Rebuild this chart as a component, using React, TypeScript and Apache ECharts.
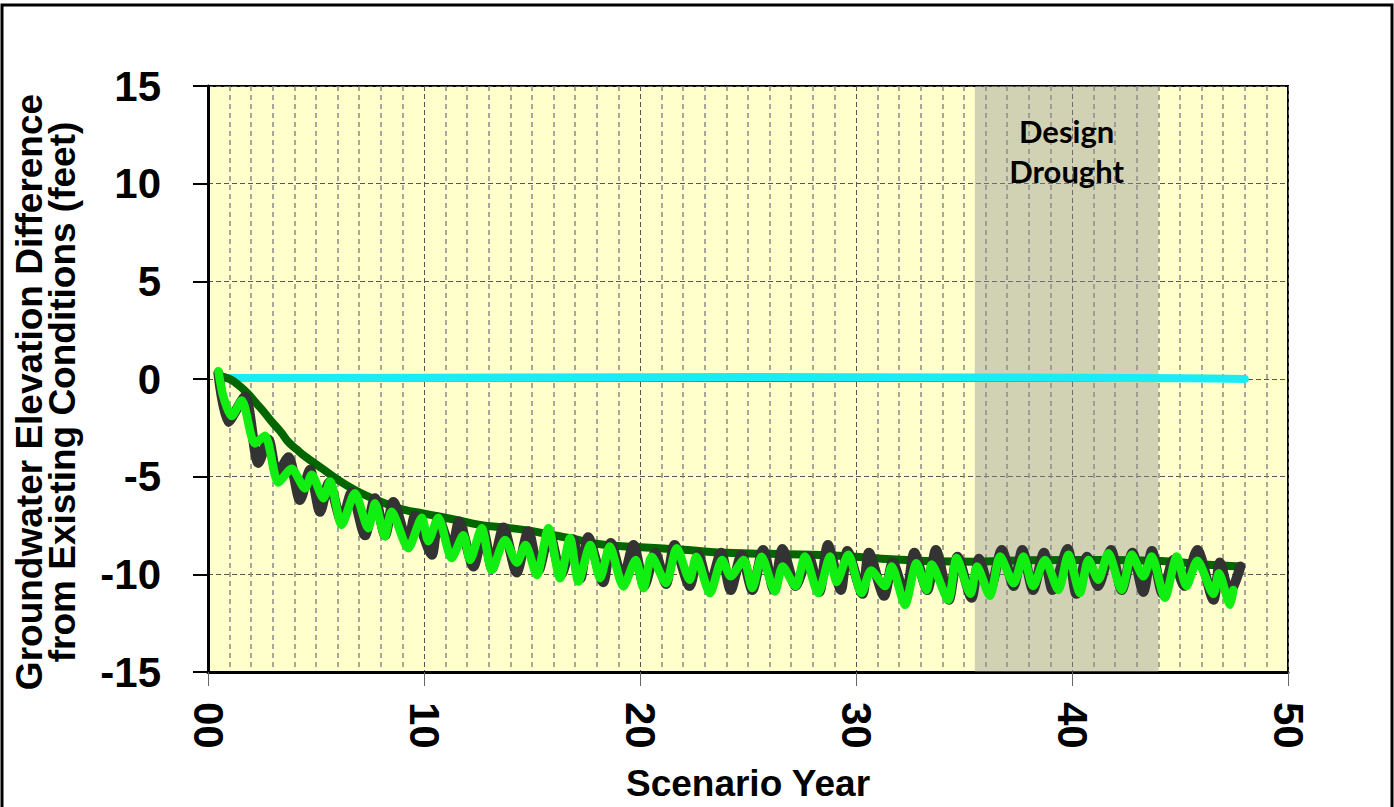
import React, { useEffect, useRef } from "react";
import * as echarts from "echarts";

// Scenario year tick labels
const xTickLabels: Record<number, string> = { 0: "00", 10: "10", 20: "20", 30: "30", 40: "40", 50: "50" };

// Axis titles
const yTitle = "Groundwater Elevation Difference\nfrom Existing Conditions (feet)";
const xTitle = "Scenario Year";

// Design drought period (scenario years)
const droughtStart = 35.5;
const droughtEnd = 44.0;

// Cyan reference line (≈0 ft)
const cyanLine: [number, number][] = [
  [0.8, 0.05], [5, 0.05], [15, 0.08], [25, 0.1], [35, 0.08], [45, 0.04], [48, 0.0],
];
// Thin red line beneath the cyan one
const redLine: [number, number][] = [
  [0.8, -0.1], [48, -0.12],
];

// Dark green smooth trend
const darkGreenLine: [number, number][] = [
  [0.5, 0.15], [1, 0.0], [1.4, -0.3], [1.8, -0.7], [2.2, -1.2], [2.6, -1.7], [3, -2.25], [3.4, -2.75],
  [3.7, -3.2], [4.1, -3.6], [4.5, -3.97], [5.3, -4.6], [6, -5.15], [6.8, -5.68], [7.6, -6.1], [8.4, -6.45],
  [9.1, -6.7], [9.9, -6.87], [10.7, -7.04], [11.5, -7.22], [12.6, -7.47], [13.7, -7.6], [14.8, -7.75],
  [16, -8.0], [17, -8.2], [17.8, -8.4], [19, -8.55], [20.9, -8.66], [22.5, -8.78], [23.6, -8.88],
  [26, -8.95], [28, -9.0], [30, -9.1], [31.2, -9.2], [33, -9.3], [35.5, -9.35], [37, -9.3], [39.9, -9.26],
  [42, -9.27], [43.9, -9.3], [46.1, -9.5], [47.8, -9.6],
];

// Dark gray oscillating series
const grayLine: [number, number][] = [
  [0.48, 0.3], [0.94, -2.2], [1.71, -0.9], [2.33, -4.3], [2.8, -3.1], [3.2, -4.9], [3.72, -4.0], [4.26, -6.2],
  [4.72, -4.65], [5.19, -6.8], [5.6, -5.3], [6.19, -7.3], [6.65, -5.8], [7.27, -8.0], [7.73, -6.1], [8.2, -8.0],
  [8.58, -6.3], [9.27, -8.5], [9.58, -7.0], [10.36, -9.0], [10.66, -7.1], [11.28, -8.8], [11.62, -7.3],
  [12.29, -9.6], [12.75, -7.8], [13.15, -9.7], [13.68, -7.6], [14.29, -9.9], [14.83, -7.8], [15.3, -9.8],
  [15.8, -7.9], [16.35, -10.0], [16.9, -8.2], [17.25, -10.2], [17.6, -8.1], [18.3, -10.4], [18.65, -8.4],
  [19.2, -10.3], [19.7, -8.5], [20.2, -10.6], [20.7, -8.9], [21.2, -10.5], [21.6, -8.5], [22.3, -10.6],
  [22.7, -9.0], [23.2, -10.7], [23.75, -8.9], [24.2, -10.8], [24.7, -9.0], [25.2, -10.8], [25.7, -8.75],
  [26.2, -10.8], [26.6, -8.7], [27.2, -10.6], [27.8, -9.1], [28.3, -10.9], [28.7, -8.5], [29.3, -10.8],
  [29.6, -8.8], [30.3, -11.0], [30.6, -8.9], [31.3, -11.1], [31.7, -9.4], [32.3, -11.2], [32.7, -8.9],
  [33.3, -10.8], [33.7, -8.75], [34.3, -11.3], [34.7, -9.1], [35.35, -11.2], [35.7, -9.2], [36.2, -10.8],
  [36.75, -8.75], [37.3, -10.6], [37.7, -8.75], [38.2, -10.8], [38.7, -8.9], [39.1, -10.8], [39.8, -8.7],
  [40.2, -11.0], [40.7, -9.1], [41.2, -10.6], [41.8, -8.75], [42.3, -10.8], [42.8, -8.9], [43.3, -10.9],
  [43.7, -8.8], [44.2, -11.0], [44.7, -9.25], [45.2, -10.6], [45.8, -8.75], [46.55, -11.3], [46.85, -9.4],
  [47.3, -11.0], [47.8, -9.6],
];

// Bright green oscillating series
const greenLine: [number, number][] = [
  [0.48, 0.4], [0.71, -0.9], [1.1, -1.9], [1.56, -1.1], [2.17, -3.3], [2.64, -2.9], [3.26, -5.3], [3.87, -4.6],
  [4.49, -5.6], [4.8, -4.9], [5.34, -6.1], [5.65, -5.25], [6.19, -7.47], [6.8, -5.85], [7.42, -7.64],
  [7.73, -6.36], [8.19, -8.06], [8.5, -6.8], [9.27, -8.66], [9.9, -7.1], [10.2, -8.3], [10.66, -7.1],
  [11.28, -9.17], [11.82, -8.0], [12.13, -9.26], [12.67, -7.64], [13.14, -9.77], [13.75, -8.24], [14.3, -9.4],
  [14.7, -8.5], [15.22, -10.03], [15.76, -7.64], [16.3, -10.2], [16.76, -8.15], [17.15, -10.37], [17.7, -8.5],
  [18.15, -10.2], [18.6, -8.58], [19.23, -10.62], [19.8, -9.26], [20.16, -10.71], [20.54, -9.1], [21.2, -10.45],
  [21.7, -8.66], [22.3, -10.28], [22.6, -9.1], [23.24, -10.97], [23.8, -9.26], [24.2, -10.1], [24.8, -9.26],
  [25.2, -10.7], [25.63, -9.1], [26.25, -10.88], [26.6, -9.6], [27.2, -10.6], [27.64, -9.09], [28.25, -10.96],
  [28.8, -9.09], [29.1, -10.4], [29.64, -9.0], [30.26, -10.96], [30.7, -9.8], [31.34, -10.6], [31.65, -9.6],
  [32.27, -11.56], [32.8, -9.43], [33.27, -10.8], [33.5, -9.5], [34.27, -11.3], [34.66, -9.17], [35.3, -11.0],
  [35.6, -9.6], [36.2, -11.1], [36.67, -9.09], [37.3, -10.45], [37.75, -9.09], [38.2, -10.6], [38.75, -9.26],
  [39.37, -10.8], [39.83, -9.0], [40.37, -10.96], [40.76, -9.26], [41.22, -10.28], [41.68, -8.92], [42.3, -10.8],
  [42.77, -9.0], [43.3, -10.1], [43.69, -9.09], [44.3, -11.2], [44.85, -9.09], [45.3, -10.6], [45.8, -9.3],
  [46.55, -11.0], [46.8, -9.94], [47.32, -11.56], [47.47, -10.8],
];

const AXIS_FONT = "'Liberation Sans', Arial, sans-serif";

export default function App() {
  const ref = useRef<HTMLDivElement>(null);

  useEffect(() => {
    document.body.style.margin = "0";
    if (!ref.current) return;
    const chart = echarts.init(ref.current, undefined, { renderer: "svg" });
    const lineBase = { type: "line" as const, showSymbol: false, symbol: "none", silent: true };
    chart.setOption({
      animation: false,
      backgroundColor: "#ffffff",
      grid: {
        left: 208, right: 106, top: 86, bottom: 135,
        show: true, backgroundColor: "#FFFFCC", borderColor: "#000000", borderWidth: 2,
      },
      xAxis: {
        type: "value", min: 0, max: 50, interval: 10, minorSplitLine: { show: true, lineStyle: { color: "#8a8a8a", type: [5, 4], width: 1.5 } },
        minorTick: { show: false, splitNumber: 10 },
        splitLine: { show: true, lineStyle: { color: "#555555", type: [5, 3], width: 1 } },
        axisLine: { show: true, onZero: false, lineStyle: { color: "#000", width: 3 } },
        axisTick: { show: true, length: 14, lineStyle: { color: "#666", width: 1 } },
        axisLabel: {
          rotate: -90, margin: 30, fontSize: 42, fontWeight: "bold", fontFamily: AXIS_FONT, color: "#000",
          formatter: (v: number) => xTickLabels[v] ?? String(v),
        },
        name: xTitle, nameLocation: "middle", nameGap: 93,
        nameTextStyle: { fontSize: 37, fontWeight: "bold", fontFamily: AXIS_FONT, color: "#000" },
      },
      yAxis: {
        type: "value", min: -15, max: 15, interval: 5,
        splitLine: { show: true, lineStyle: { color: "#555555", type: [5, 3], width: 1 } },
        axisLine: { show: true, onZero: false, lineStyle: { color: "#000", width: 3 } },
        axisTick: { show: true, length: 15, lineStyle: { color: "#000", width: 2 } },
        axisLabel: { margin: 47, fontSize: 42, fontWeight: "bold", fontFamily: AXIS_FONT, color: "#000" },
      },
      graphic: [
        { type: "rect", shape: { x: 2, y: 5, width: 1390, height: 900 }, style: { fill: "none", stroke: "#000", lineWidth: 3 }, silent: true },
        {
          type: "text", x: 46, y: 392, rotation: Math.PI / 2, silent: true,
          style: {
            text: yTitle, fill: "#000", align: "center", verticalAlign: "middle",
            fontSize: 37, lineHeight: 33, fontWeight: "bold", fontFamily: AXIS_FONT,
          },
        },
      ],
      series: [
        { ...lineBase, name: "red", data: redLine, z: 1, lineStyle: { color: "#ff3030", width: 1.5 } },
        { ...lineBase, name: "cyan", data: cyanLine, z: 2, smooth: true, lineStyle: { color: "#19ECF5", width: 8, cap: "round" } },
        { ...lineBase, name: "trend", data: darkGreenLine, z: 3, smooth: true, lineStyle: { color: "#006600", width: 8, cap: "round", join: "round" } },
        { ...lineBase, name: "gray", data: grayLine, z: 4, smooth: 0.25, lineStyle: { color: "#333333", width: 10, cap: "round", join: "round" } },
        { ...lineBase, name: "green", data: greenLine, z: 5, smooth: 0.25, lineStyle: { color: "#11EE11", width: 8.5, cap: "round", join: "round" } },
        {
          ...lineBase, name: "drought", data: [], z: 6,
          markArea: {
            silent: true,
            itemStyle: { color: "rgba(145,145,145,0.42)" },
            label: {
              show: true, position: "insideTop", distance: 25, color: "#000",
              fontFamily: "Lato, 'Open Sans', sans-serif", fontWeight: "bold", fontSize: 31, lineHeight: 40,
            },
            data: [[{ xAxis: droughtStart, name: "Design\nDrought" }, { xAxis: droughtEnd }]],
          },
        },
      ],
    });
    return () => chart.dispose();
  }, []);

  return <div ref={ref} style={{ width: 1394, height: 807 }} />;
}
